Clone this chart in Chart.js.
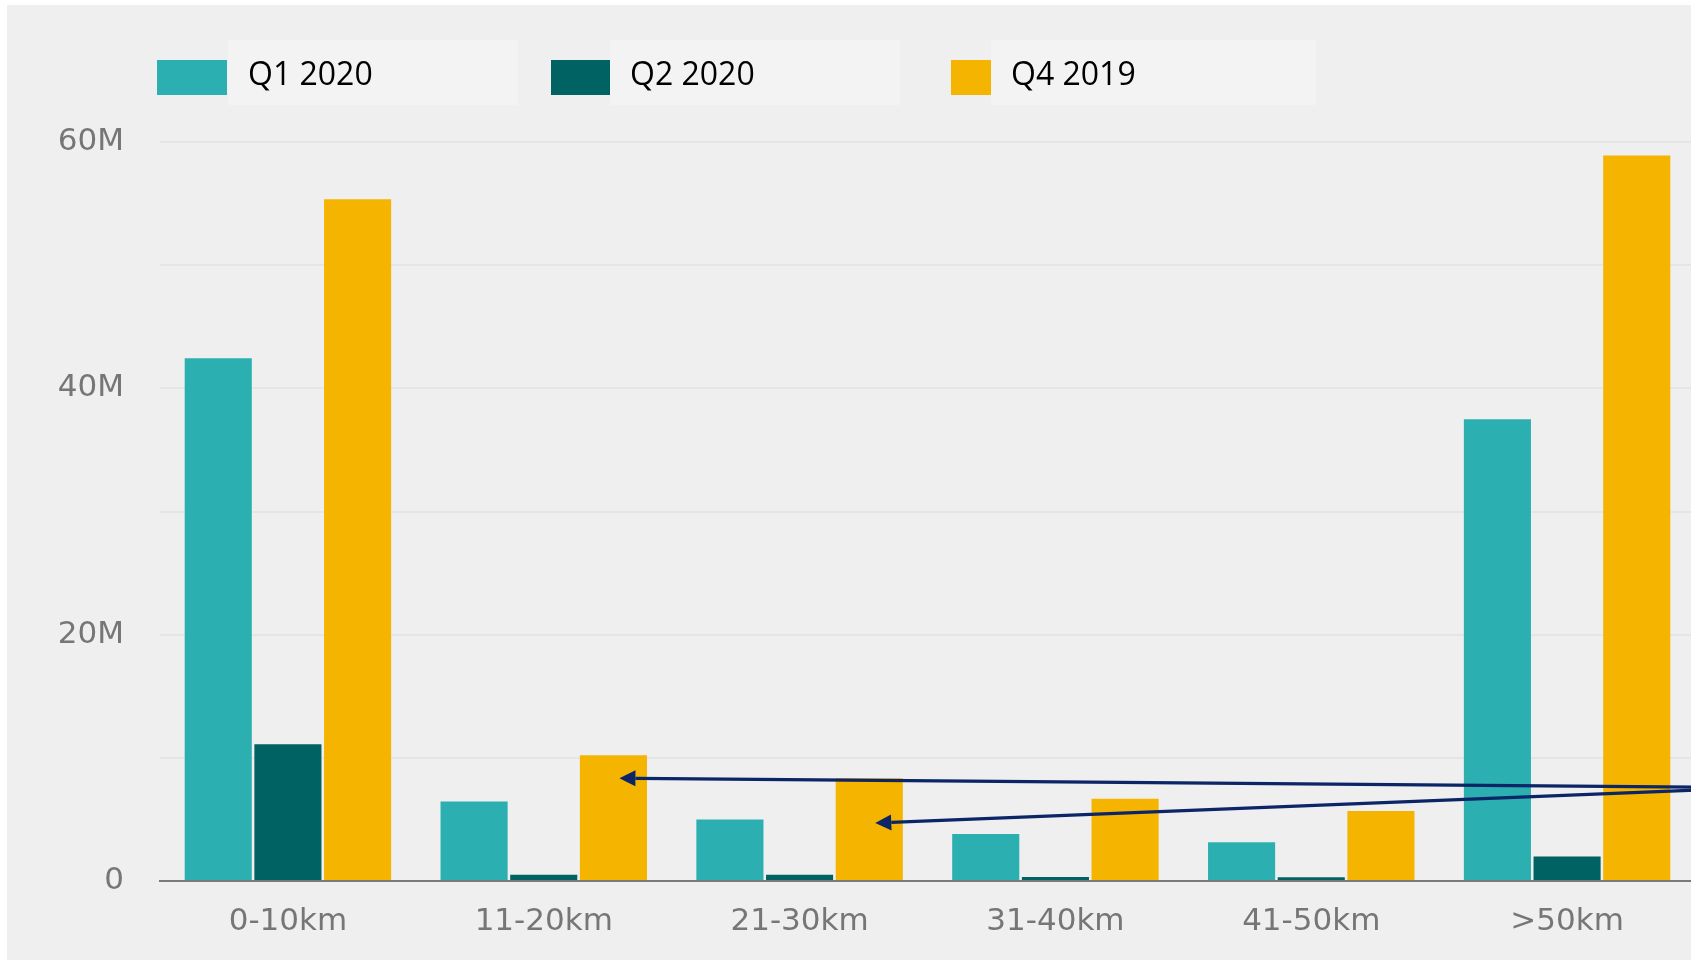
<!DOCTYPE html>
<html>
<head>
<meta charset="utf-8">
<script src="https://cdn.jsdelivr.net/npm/chart.js@4.4.1/dist/chart.umd.min.js"></script>
<style>
  html, body { margin: 0; padding: 0; background: #ffffff; }
  #wrap { position: relative; width: 1691px; height: 961px; overflow: hidden; }
  #bg { position: absolute; left: 7px; top: 5px; width: 1684px; height: 955px; background: #efefef; }
  #chart { position: absolute; left: 0; top: 0; }
  .lg-box { position: absolute; height: 35px; top: 60px; }
  .lg-lab { position: absolute; top: 40px; height: 65px; background: #f3f3f3;
            font-family: "Open Sans", sans-serif; font-size: 32px; color: #000;
            line-height: 65px; box-sizing: border-box; padding-left: 20px; }
</style>
</head>
<body>
<div id="wrap">
  <div id="bg"></div>
  <canvas id="chart" width="1695" height="961"></canvas>
  <div id="legend"></div>
</div>
<script>
const categories = ['0-10km', '11-20km', '21-30km', '31-40km', '41-50km', '>50km'];
const seriesNames = ['Q1 2020', 'Q2 2020', 'Q4 2019'];
const q1_2020 = [42.45e6, 6.45e6, 5.0e6, 3.82e6, 3.15e6, 37.5e6];
const q2_2020 = [11.1e6, 0.5e6, 0.5e6, 0.33e6, 0.3e6, 1.98e6];
const q4_2019 = [55.36e6, 10.2e6, 8.35e6, 6.67e6, 5.69e6, 58.9e6];
const seriesColors = ['#2bafb0', '#016263', '#f4b400'];
const yTickValues = [0, 20e6, 40e6, 60e6];
const yTickLabels = ['0', '20M', '40M', '60M'];

// annotation arrows: point at Q4 2019 bars of these categories
const arrowTargets = ['11-20km', '21-30km'];
const arrowTipValues = [8.35e6, 4.7e6];
const arrowTailValues = [7.62e6, 7.38e6];

// Legend (HTML overlay, layout matches reference)
const legendLayout = [
  { boxL: 157, boxW: 70, labL: 228, labW: 290 },
  { boxL: 551, boxW: 59, labL: 610, labW: 290 },
  { boxL: 951, boxW: 40, labL: 991, labW: 325 }
];
const lg = document.getElementById('legend');
seriesNames.forEach((n, i) => {
  const L = legendLayout[i];
  const b = document.createElement('div');
  b.className = 'lg-box';
  b.style.left = L.boxL + 'px'; b.style.width = L.boxW + 'px';
  b.style.background = seriesColors[i];
  lg.appendChild(b);
  const t = document.createElement('div');
  t.className = 'lg-lab';
  t.style.left = L.labL + 'px'; t.style.width = L.labW + 'px';
  t.textContent = n;
  lg.appendChild(t);
});

const arrowPlugin = {
  id: 'arrows',
  afterDatasetsDraw(chart) {
    const ctx = chart.ctx;
    const y = chart.scales.y;
    const meta = chart.getDatasetMeta(2);
    ctx.save();
    ctx.strokeStyle = '#0b2566';
    ctx.fillStyle = '#0b2566';
    ctx.lineWidth = 3.2;
    arrowTargets.forEach((cat, i) => {
      const idx = categories.indexOf(cat);
      const el = meta.data[idx];
      const tx = el.x + 6, ty = y.getPixelForValue(arrowTipValues[i]);
      const sx = chart.chartArea.right + 2, sy = y.getPixelForValue(arrowTailValues[i]);
      const ang = Math.atan2(sy - ty, sx - tx);
      const hl = 16, hw = 8;
      const bx = tx + Math.cos(ang) * hl, by = ty + Math.sin(ang) * hl;
      ctx.beginPath();
      ctx.moveTo(sx, sy);
      ctx.lineTo(bx, by);
      ctx.stroke();
      ctx.beginPath();
      ctx.moveTo(tx, ty);
      ctx.lineTo(bx - Math.sin(ang) * hw, by + Math.cos(ang) * hw);
      ctx.lineTo(bx + Math.sin(ang) * hw, by - Math.cos(ang) * hw);
      ctx.closePath();
      ctx.fill();
    });
    ctx.restore();
  }
};

const tickFont = { family: '"DejaVu Sans", sans-serif', size: 31 };

new Chart(document.getElementById('chart'), {
  type: 'bar',
  data: {
    labels: categories,
    datasets: [
      { label: seriesNames[0], data: q1_2020, backgroundColor: seriesColors[0] },
      { label: seriesNames[1], data: q2_2020, backgroundColor: seriesColors[1] },
      { label: seriesNames[2], data: q4_2019, backgroundColor: seriesColors[2] }
    ]
  },
  options: {
    responsive: false,
    animation: false,
    devicePixelRatio: 1,
    layout: { padding: { top: 142, left: 0, right: 0, bottom: 0 } },
    datasets: { bar: { categoryPercentage: 0.817, barPercentage: 0.963 } },
    plugins: { legend: { display: false }, tooltip: { enabled: false } },
    scales: {
      x: {
        grid: { display: false, drawTicks: false },
        border: { display: true, color: '#7a7a7a', width: 2 },
        ticks: { color: '#767676', font: tickFont, padding: 22, maxRotation: 0 },
        afterFit(s) { s.height = 80; }
      },
      y: {
        min: 0, max: 60e6,
        grid: { color: '#e5e5e5', lineWidth: 2, drawTicks: false },
        border: { display: false },
        ticks: {
          stepSize: 10e6,
          color: '#767676', font: tickFont, padding: 36,
          callback(v) { const k = yTickValues.indexOf(v); return k >= 0 ? yTickLabels[k] : ''; }
        },
        afterFit(s) { s.width = 160; }
      }
    }
  },
  plugins: [arrowPlugin]
});
</script>
</body>
</html>
